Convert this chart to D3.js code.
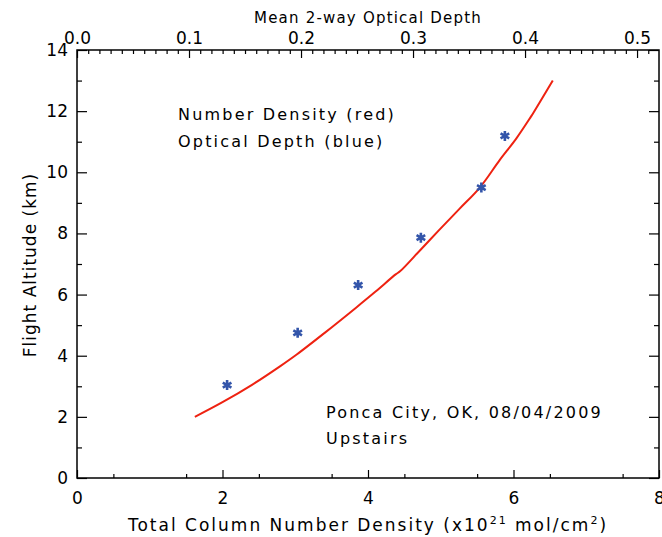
<!DOCTYPE html>
<html>
<head>
<meta charset="utf-8">
<script src="https://cdn.jsdelivr.net/npm/d3@7"></script>
<style>
  body { margin: 0; background: #fff; }
  text { font-family: "DejaVu Sans", sans-serif; fill: #000; }
</style>
</head>
<body>
<script>
// red curve: total column number density (x10^21 mol/cm2) vs flight altitude (km)
var densityX = [1.62, 2.00, 2.40, 2.80, 3.02, 3.40, 3.84, 4.10, 4.38, 4.44, 4.72, 4.97, 5.26, 5.54, 5.81, 6.04, 6.24, 6.27, 6.54];
var densityAlt = [2.00, 2.48, 3.04, 3.67, 4.04, 4.74, 5.58, 6.09, 6.66, 6.76, 7.46, 8.09, 8.81, 9.51, 10.40, 11.11, 11.82, 11.93, 13.00];

// blue markers: mean 2-way optical depth vs altitude
var opticalDepth = [0.134, 0.197, 0.251, 0.307, 0.361, 0.382];
var opticalAlt = [3.04, 4.75, 6.31, 7.86, 9.50, 11.19];

var bottomTicks = [0, 2, 4, 6, 8];
var topTicks = [0.0, 0.1, 0.2, 0.3, 0.4, 0.5];
var leftTicks = [0, 2, 4, 6, 8, 10, 12, 14];

var W = 662, H = 537;
var margin = {left: 77, top: 50, right: 3, bottom: 59};
var w = W - margin.left - margin.right;   // 582
var h = H - margin.top - margin.bottom;   // 428

var svg = d3.select('body')
  .append('svg')
  .attr('width', W)
  .attr('height', H);

svg.append('rect')
  .attr('width', W).attr('height', H)
  .attr('fill', 'white');

var g = svg.append('g')
  .attr('transform', 'translate(' + margin.left + ',' + margin.top + ')');

var x = d3.scaleLinear().domain([0, 8]).range([0, w]);
var xTop = d3.scaleLinear().domain([0, 0.5196]).range([0, w]);
var y = d3.scaleLinear().domain([0, 14]).range([h, 0]);

var fs = 17;

// bottom axis
g.append('g')
  .attr('transform', 'translate(0,' + h + ')')
  .call(d3.axisBottom(x).tickValues(bottomTicks).tickSizeInner(-8).tickSizeOuter(0).tickPadding(14)
    .tickFormat(d3.format('d')));
g.append('g')
  .attr('transform', 'translate(0,' + h + ')')
  .call(d3.axisBottom(x).tickValues(d3.range(0.5, 8, 1)).tickSizeInner(-4).tickSizeOuter(0).tickFormat(''));

// top axis
g.append('g')
  .call(d3.axisTop(xTop).tickValues(topTicks).tickSizeInner(-8).tickSizeOuter(0).tickPadding(6)
    .tickFormat(d3.format('.1f')));
g.append('g')
  .call(d3.axisTop(xTop).tickValues(d3.range(1, 52).map(function(i) { return i / 100; })
      .filter(function(v) { return Math.round(v * 100) % 10 !== 0; }))
    .tickSizeInner(-4).tickSizeOuter(0).tickFormat(''));

// left axis
g.append('g')
  .call(d3.axisLeft(y).tickValues(leftTicks).tickSizeInner(-10).tickSizeOuter(0).tickPadding(9)
    .tickFormat(d3.format('d')));
g.append('g')
  .call(d3.axisLeft(y).tickValues(d3.range(1, 14, 2)).tickSizeInner(-5).tickSizeOuter(0).tickFormat(''));

// right axis (ticks only)
g.append('g')
  .attr('transform', 'translate(' + w + ',0)')
  .call(d3.axisRight(y).tickValues(leftTicks).tickSizeInner(-10).tickSizeOuter(0).tickFormat(''));
g.append('g')
  .attr('transform', 'translate(' + w + ',0)')
  .call(d3.axisRight(y).tickValues(d3.range(1, 14, 2)).tickSizeInner(-5).tickSizeOuter(0).tickFormat(''));

g.selectAll('.domain').remove();
g.selectAll('.tick line').attr('stroke', '#000').attr('stroke-width', 1.2);
g.selectAll('.tick text')
  .style('font-size', fs + 'px')
  .style('font-family', '"DejaVu Sans", sans-serif');

// frame
g.append('rect')
  .attr('width', w).attr('height', h)
  .attr('fill', 'none')
  .attr('stroke', '#000')
  .attr('stroke-width', 1.5);

// red density curve
var line = d3.line()
  .x(function(d) { return x(d[0]); })
  .y(function(d) { return y(d[1]); })
  .curve(d3.curveCatmullRom);

g.append('path')
  .datum(d3.zip(densityX, densityAlt))
  .attr('d', line)
  .attr('fill', 'none')
  .attr('stroke', '#ee2211')
  .attr('stroke-width', 2);

// blue optical depth markers
var star = d3.symbol().type(d3.symbolAsterisk).size(70);
g.selectAll('.od')
  .data(d3.zip(opticalDepth, opticalAlt))
  .enter()
  .append('path')
  .attr('class', 'od')
  .attr('transform', function(d) { return 'translate(' + xTop(d[0]) + ',' + y(d[1]) + ')'; })
  .attr('d', star)
  .attr('fill', 'none')
  .attr('stroke', '#3355aa')
  .attr('stroke-width', 2.6);

// titles
svg.append('text')
  .attr('x', margin.left + w / 2)
  .attr('y', 23)
  .attr('text-anchor', 'middle')
  .style('font-size', '15px')
  .style('letter-spacing', '1.2px')
  .text('Mean 2-way Optical Depth');

var xt = svg.append('text')
  .attr('x', margin.left + w / 2)
  .attr('y', 531)
  .attr('text-anchor', 'middle')
  .style('font-size', fs + 'px')
  .style('letter-spacing', '2px');
xt.append('tspan').text('Total Column Number Density (x10');
xt.append('tspan').attr('dy', -7).style('font-size', '11px').text('21');
xt.append('tspan').attr('dy', 7).text(' mol/cm');
xt.append('tspan').attr('dy', -7).style('font-size', '11px').text('2');
xt.append('tspan').attr('dy', 7).text(')');

svg.append('text')
  .attr('transform', 'translate(36,265) rotate(-90)')
  .attr('text-anchor', 'middle')
  .style('font-size', fs + 'px')
  .style('letter-spacing', '1px')
  .text('Flight Altitude (km)');

// annotations
var notes = [
  {t: 'Number Density (red)', x: 178, y: 120},
  {t: 'Optical Depth (blue)', x: 178, y: 147},
  {t: 'Ponca City, OK, 08/04/2009', x: 326, y: 418},
  {t: 'Upstairs', x: 326, y: 444}
];
svg.selectAll('.note')
  .data(notes)
  .enter()
  .append('text')
  .attr('class', 'note')
  .attr('x', function(d) { return d.x; })
  .attr('y', function(d) { return d.y; })
  .style('font-size', '16px')
  .style('letter-spacing', '2.2px')
  .text(function(d) { return d.t; });
</script>
</body>
</html>
